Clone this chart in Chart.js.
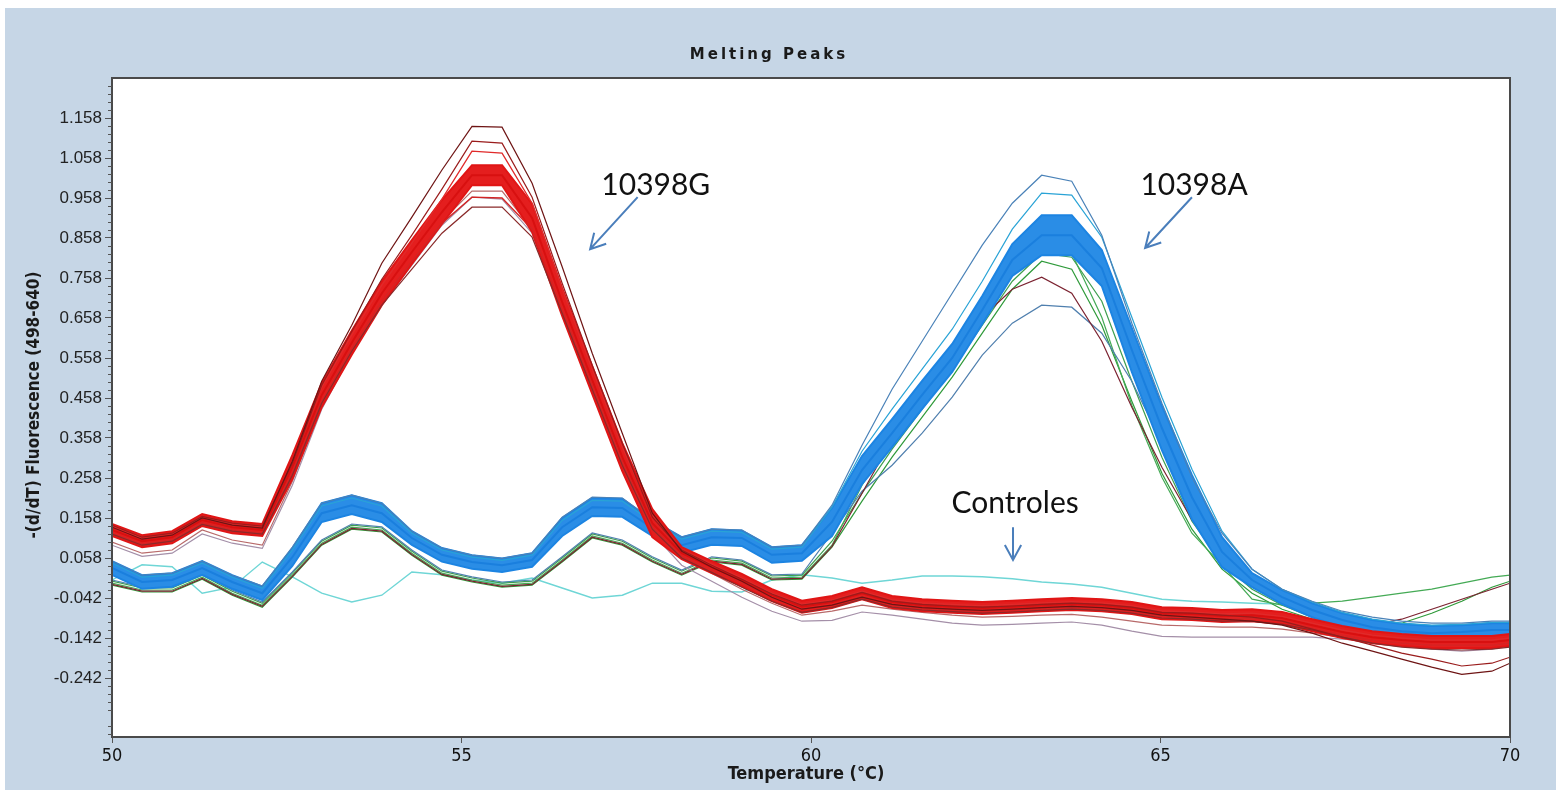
<!DOCTYPE html>
<html>
<head>
<meta charset="utf-8">
<title>Melting Peaks</title>
<script src="https://cdn.jsdelivr.net/npm/chart.js@4.4.1/dist/chart.umd.min.js"></script>
<style>
  html, body { margin: 0; padding: 0; background: #fff; }
  #wrap { position: relative; width: 1556px; height: 793px; }
</style>
</head>
<body>
<div id="wrap"><canvas id="myChart" width="1556" height="793"></canvas></div>
<script>
// temperatures (°C) where the instrument sampled -d/dT
const temps = [50.00, 50.43, 50.86, 51.29, 51.72, 52.15, 52.58, 53.00, 53.43, 53.86, 54.29, 54.72,
               55.15, 55.58, 56.01, 56.44, 56.87, 57.30, 57.73, 58.15, 58.58, 59.01, 59.44, 59.87,
               60.30, 60.73, 61.16, 61.59, 62.02, 62.45, 62.88, 63.30, 63.73, 64.16, 64.59, 65.02,
               65.45, 65.88, 66.31, 66.74, 67.17, 67.60, 68.03, 68.45, 68.88, 69.31, 69.74, 70.00];

const yTicks = [1.158, 1.058, 0.958, 0.858, 0.758, 0.658, 0.558, 0.458, 0.358, 0.258, 0.158, 0.058, -0.042, -0.142, -0.242];
const xTicks = [50, 55, 60, 65, 70];

// 10398G samples (red)
const redTop = [0.143, 0.115, 0.125, 0.168, 0.150, 0.143, 0.315, 0.495, 0.626, 0.750, 0.853, 0.953,
                1.040, 1.040, 0.943, 0.733, 0.538, 0.345, 0.180, 0.085, 0.050, 0.018, -0.020, -0.049,
                -0.037, -0.015, -0.037, -0.045, -0.049, -0.052, -0.049, -0.045, -0.042, -0.045, -0.052, -0.065,
                -0.067, -0.072, -0.070, -0.077, -0.095, -0.112, -0.125, -0.132, -0.137, -0.137, -0.137, -0.132];
const redLow = [0.113, 0.085, 0.095, 0.138, 0.120, 0.113, 0.255, 0.435, 0.566, 0.690, 0.793, 0.893,
                0.990, 0.990, 0.873, 0.663, 0.468, 0.275, 0.110, 0.055, 0.020, -0.012, -0.050, -0.079,
                -0.067, -0.045, -0.067, -0.075, -0.079, -0.082, -0.079, -0.075, -0.072, -0.075, -0.082, -0.095,
                -0.097, -0.102, -0.100, -0.107, -0.125, -0.142, -0.155, -0.162, -0.167, -0.167, -0.167, -0.162];
const redMid = [0.128, 0.100, 0.110, 0.153, 0.135, 0.128, 0.285, 0.465, 0.596, 0.720, 0.823, 0.923,
                1.015, 1.015, 0.908, 0.698, 0.503, 0.310, 0.145, 0.070, 0.035, 0.003, -0.035, -0.064,
                -0.052, -0.030, -0.052, -0.060, -0.064, -0.067, -0.064, -0.060, -0.057, -0.060, -0.067, -0.080,
                -0.082, -0.087, -0.085, -0.092, -0.110, -0.127, -0.140, -0.147, -0.152, -0.152, -0.152, -0.147];
const redThin1 = [0.138, 0.108, 0.118, 0.160, 0.143, 0.136, 0.300, 0.485, 0.615, 0.740, 0.845, 0.955,
                  1.075, 1.070, 0.945, 0.730, 0.530, 0.335, 0.165, 0.078, 0.042, 0.008, -0.030, -0.058,
                  -0.047, -0.025, -0.046, -0.054, -0.058, -0.061, -0.058, -0.054, -0.051, -0.054, -0.061, -0.074,
                  -0.077, -0.082, -0.080, -0.088, -0.105, -0.122, -0.135, -0.142, -0.147, -0.147, -0.147, -0.142];
const redThin2 = [0.120, 0.093, 0.103, 0.146, 0.128, 0.120, 0.270, 0.450, 0.582, 0.700, 0.800, 0.895,
                  0.960, 0.958, 0.880, 0.680, 0.490, 0.298, 0.135, 0.062, 0.028, -0.005, -0.042, -0.070,
                  -0.060, -0.038, -0.060, -0.068, -0.072, -0.075, -0.072, -0.068, -0.065, -0.068, -0.075, -0.088,
                  -0.090, -0.095, -0.093, -0.100, -0.118, -0.135, -0.148, -0.155, -0.160, -0.160, -0.160, -0.155];
const redDark1 = [0.135, 0.105, 0.115, 0.158, 0.140, 0.133, 0.300, 0.500, 0.640, 0.795, 0.910, 1.028,
                  1.137, 1.135, 0.995, 0.786, 0.570, 0.370, 0.170, 0.075, 0.035, 0.000, -0.040, -0.070,
                  -0.060, -0.040, -0.058, -0.066, -0.070, -0.073, -0.070, -0.066, -0.063, -0.066, -0.073, -0.085,
                  -0.090, -0.095, -0.100, -0.110, -0.130, -0.155, -0.175, -0.195, -0.215, -0.233, -0.225, -0.205];
const redDark2 = [0.140, 0.110, 0.120, 0.162, 0.145, 0.138, 0.295, 0.490, 0.625, 0.755, 0.865, 0.980,
                  1.100, 1.095, 0.960, 0.745, 0.540, 0.345, 0.160, 0.078, 0.040, 0.005, -0.032, -0.060,
                  -0.050, -0.028, -0.050, -0.058, -0.062, -0.065, -0.062, -0.058, -0.055, -0.058, -0.065, -0.078,
                  -0.080, -0.085, -0.090, -0.100, -0.120, -0.140, -0.160, -0.180, -0.195, -0.212, -0.205, -0.190];
const redDark3 = [0.118, 0.090, 0.100, 0.142, 0.125, 0.118, 0.265, 0.445, 0.575, 0.690, 0.780, 0.870,
                  0.935, 0.935, 0.860, 0.670, 0.480, 0.290, 0.130, 0.058, 0.022, -0.015, -0.050, -0.078,
                  -0.066, -0.045, -0.065, -0.072, -0.076, -0.080, -0.077, -0.073, -0.070, -0.073, -0.080, -0.092,
                  -0.095, -0.100, -0.100, -0.108, -0.122, -0.140, -0.155, -0.165, -0.170, -0.172, -0.170, -0.165];
const redPink = [0.098, 0.070, 0.078, 0.128, 0.103, 0.090, 0.250, 0.440, 0.580, 0.700, 0.800, 0.900,
                 0.975, 0.975, 0.880, 0.680, 0.490, 0.300, 0.135, 0.060, 0.020, -0.020, -0.055, -0.085,
                 -0.075, -0.060, -0.070, -0.078, -0.085, -0.090, -0.088, -0.085, -0.083, -0.090, -0.100, -0.110,
                 -0.112, -0.115, -0.115, -0.120, -0.130, -0.140, -0.150, -0.160, -0.165, -0.165, -0.160, -0.155];
const redGray = [0.090, 0.062, 0.070, 0.118, 0.095, 0.082, 0.240, 0.430, 0.570, 0.690, 0.790, 0.890,
                 0.960, 0.955, 0.870, 0.670, 0.480, 0.290, 0.120, 0.040, 0.000, -0.040, -0.075, -0.100,
                 -0.098, -0.077, -0.085, -0.095, -0.105, -0.110, -0.108, -0.105, -0.102, -0.110, -0.125, -0.138,
                 -0.140, -0.140, -0.140, -0.140, -0.140, -0.145, -0.150, -0.160, -0.170, -0.175, -0.170, -0.160];

// 10398A samples (blue and a few others)
const blueTop = [0.050, 0.015, 0.020, 0.050, 0.015, -0.013, 0.082, 0.195, 0.215, 0.195, 0.125, 0.083,
                 0.065, 0.057, 0.070, 0.158, 0.208, 0.206, 0.152, 0.110, 0.130, 0.127, 0.085, 0.090,
                 0.183, 0.313, 0.405, 0.501, 0.593, 0.713, 0.843, 0.915, 0.915, 0.828, 0.633, 0.438,
                 0.265, 0.110, 0.020, -0.022, -0.055, -0.080, -0.097, -0.107, -0.112, -0.110, -0.105, -0.105];
const blueLow = [0.016, -0.019, -0.014, 0.016, -0.019, -0.047, 0.038, 0.148, 0.168, 0.148, 0.091, 0.049,
                 0.031, 0.023, 0.036, 0.113, 0.163, 0.161, 0.113, 0.071, 0.091, 0.088, 0.046, 0.051,
                 0.113, 0.243, 0.335, 0.431, 0.523, 0.643, 0.763, 0.815, 0.815, 0.738, 0.523, 0.328,
                 0.155, 0.035, -0.015, -0.057, -0.090, -0.115, -0.132, -0.142, -0.147, -0.145, -0.140, -0.140];
const blueMid = [0.033, -0.002, 0.003, 0.033, -0.002, -0.030, 0.060, 0.170, 0.190, 0.170, 0.108, 0.066,
                 0.048, 0.040, 0.053, 0.135, 0.185, 0.183, 0.133, 0.090, 0.110, 0.108, 0.066, 0.070,
                 0.148, 0.278, 0.370, 0.466, 0.558, 0.678, 0.803, 0.865, 0.865, 0.783, 0.578, 0.383,
                 0.210, 0.073, 0.003, -0.040, -0.072, -0.097, -0.115, -0.125, -0.130, -0.127, -0.122, -0.122];
const blueOut = [0.050, 0.015, 0.020, 0.050, 0.015, -0.012, 0.085, 0.195, 0.215, 0.195, 0.125, 0.083,
                 0.065, 0.057, 0.070, 0.160, 0.210, 0.208, 0.153, 0.110, 0.130, 0.128, 0.085, 0.090,
                 0.190, 0.340, 0.480, 0.600, 0.720, 0.840, 0.945, 1.015, 1.000, 0.865, 0.645, 0.445,
                 0.260, 0.120, 0.030, -0.020, -0.050, -0.075, -0.090, -0.100, -0.105, -0.105, -0.100, -0.100];
const blueCyan = [0.045, 0.010, 0.015, 0.045, 0.010, -0.018, 0.078, 0.188, 0.208, 0.188, 0.120, 0.078,
                  0.060, 0.052, 0.065, 0.152, 0.202, 0.200, 0.148, 0.105, 0.125, 0.122, 0.080, 0.085,
                  0.185, 0.325, 0.430, 0.530, 0.630, 0.750, 0.880, 0.970, 0.965, 0.860, 0.660, 0.460,
                  0.280, 0.125, 0.030, -0.020, -0.052, -0.078, -0.095, -0.105, -0.110, -0.108, -0.103, -0.103];
const blueSteel = [0.003, -0.014, -0.014, 0.018, -0.022, -0.052, 0.023, 0.103, 0.143, 0.136, 0.078, 0.028,
                   0.011, -0.002, 0.003, 0.061, 0.121, 0.103, 0.061, 0.028, 0.061, 0.053, 0.016, 0.018,
                   0.120, 0.225, 0.290, 0.370, 0.460, 0.565, 0.645, 0.690, 0.685, 0.620, 0.500, 0.345,
                   0.200, 0.085, 0.010, -0.040, -0.070, -0.090, -0.105, -0.115, -0.120, -0.120, -0.118, -0.115];
const darkRedA = [-0.008, -0.025, -0.025, 0.007, -0.033, -0.063, 0.012, 0.092, 0.132, 0.125, 0.067, 0.017,
                  0.000, -0.013, -0.008, 0.050, 0.110, 0.092, 0.050, 0.017, 0.050, 0.042, 0.005, 0.007,
                  0.087, 0.220, 0.355, 0.460, 0.560, 0.660, 0.730, 0.760, 0.720, 0.600, 0.435, 0.285,
                  0.153, 0.070, 0.000, -0.050, -0.080, -0.100, -0.110, -0.095, -0.070, -0.045, -0.020, -0.005];
const green1 = [-0.005, -0.022, -0.022, 0.010, -0.030, -0.060, 0.015, 0.095, 0.135, 0.128, 0.070, 0.020,
                0.003, -0.010, -0.005, 0.053, 0.113, 0.095, 0.053, 0.020, 0.053, 0.045, 0.008, 0.010,
                0.090, 0.240, 0.360, 0.460, 0.560, 0.680, 0.790, 0.850, 0.820, 0.660, 0.440, 0.260,
                0.120, 0.040, -0.045, -0.060, -0.055, -0.050, -0.040, -0.030, -0.020, -0.005, 0.010, 0.015];
const green2 = [-0.010, -0.027, -0.027, 0.005, -0.035, -0.065, 0.010, 0.090, 0.130, 0.123, 0.065, 0.015,
                -0.002, -0.015, -0.010, 0.048, 0.108, 0.090, 0.048, 0.015, 0.048, 0.040, 0.003, 0.005,
                0.085, 0.200, 0.310, 0.410, 0.510, 0.620, 0.730, 0.800, 0.780, 0.640, 0.450, 0.270,
                0.130, 0.030, -0.030, -0.070, -0.095, -0.110, -0.115, -0.105, -0.080, -0.050, -0.015, 0.000];
const green3 = [0.000, -0.017, -0.017, 0.015, -0.025, -0.055, 0.020, 0.100, 0.140, 0.133, 0.075, 0.025,
                0.008, -0.005, 0.000, 0.058, 0.118, 0.100, 0.058, 0.025, 0.058, 0.050, 0.013, 0.015,
                0.100, 0.220, 0.330, 0.430, 0.530, 0.640, 0.750, 0.820, 0.810, 0.700, 0.500, 0.310,
                0.150, 0.045, -0.020, -0.060, -0.090, -0.110, -0.125, -0.135, -0.140, -0.140, -0.135, -0.130];

// negative control
const control = [0.003, 0.041, 0.036, -0.030, -0.015, 0.048, 0.011, -0.030, -0.052, -0.035, 0.023, 0.016,
                 0.003, -0.005, 0.008, -0.017, -0.042, -0.035, -0.005, -0.005, -0.025, -0.027, 0.003, 0.016,
                 0.008, -0.005, 0.003, 0.013, 0.013, 0.011, 0.006, -0.002, -0.007, -0.015, -0.030, -0.045,
                 -0.050, -0.052, -0.055, -0.057, -0.075, -0.095, -0.110, -0.118, -0.120, -0.120, -0.118, -0.118];

// annotations, in chart units (°C, -dF/dT)
const noteText = ['10398G', '10398A', 'Controles'];
const noteX = [57.78, 65.48, 62.92];
const noteY = [0.990, 0.990, 0.195];
const arrowFrom = [[57.52, 0.960], [65.45, 0.960], [62.89, 0.135]];
const arrowTo = [[56.84, 0.830], [64.78, 0.833], [62.89, 0.053]];

function pts(arr) {
    return temps.map((t, i) => ({ x: t, y: arr[i] }));
}

function line(label, arr, color, width, fill, bg) {
    return {
        label: label,
        data: pts(arr),
        borderColor: color,
        backgroundColor: bg || color,
        borderWidth: width,
        pointRadius: 0,
        tension: 0,
        fill: fill || false
    };
}

const datasets = [
    line('control', control, '#6fd6d6', 1.4),
    line('green3', green3, '#3f9f4f', 1.2),
    line('green2', green2, '#2f9a3a', 1.2),
    line('green1', green1, '#44aa55', 1.2),
    line('steel', blueSteel, '#4f7fae', 1.2),
    line('darkRedA', darkRedA, '#7b2230', 1.2),
    line('blueTop', blueTop, '#1c84e2', 2, '+1', '#2a8de6'),
    line('blueLow', blueLow, '#1c84e2', 2),
    line('blueMid', blueMid, '#1a7fde', 2),
    line('blueCyan', blueCyan, '#29a3d6', 1.2),
    line('blueOut', blueOut, '#4a82b8', 1.2),
    line('redGray', redGray, '#a48fa8', 1.2),
    line('redPink', redPink, '#b86a6a', 1.2),
    line('redTop', redTop, '#e01515', 2, '+1', '#e41e1e'),
    line('redLow', redLow, '#e01515', 2),
    line('redMid', redMid, '#d81010', 2),
    line('redThin1', redThin1, '#e02a2a', 1.3),
    line('redThin2', redThin2, '#d42424', 1.3),
    line('redDark3', redDark3, '#8a2a2a', 1.2),
    line('redDark2', redDark2, '#9a1c1c', 1.2),
    line('redDark1', redDark1, '#6e1414', 1.2)
];
// paint in array order, first one at the bottom
datasets.forEach((d, i) => { d.order = -i; });

const narrow = '"Liberation Sans Narrow", "Arial Narrow", "DejaVu Sans Condensed", "Liberation Sans", sans-serif';

function drawArrow(ctx, x1, y1, x2, y2) {
    const a = Math.atan2(y2 - y1, x2 - x1);
    const h = 17;
    ctx.beginPath();
    ctx.moveTo(x1, y1);
    ctx.lineTo(x2, y2);
    ctx.moveTo(x2 - h * Math.cos(a - 0.5), y2 - h * Math.sin(a - 0.5));
    ctx.lineTo(x2, y2);
    ctx.lineTo(x2 - h * Math.cos(a + 0.5), y2 - h * Math.sin(a + 0.5));
    ctx.stroke();
}

const framePlugin = {
    id: 'frame',
    beforeDraw(chart) {
        const ctx = chart.ctx;
        const a = chart.chartArea;
        ctx.save();
        ctx.fillStyle = '#ffffff';
        ctx.fillRect(0, 0, chart.width, chart.height);
        ctx.fillStyle = '#c6d6e6';
        ctx.fillRect(5, 8, chart.width - 5, 782);
        ctx.fillStyle = '#ffffff';
        ctx.fillRect(a.left, a.top, a.right - a.left, a.bottom - a.top);
        ctx.restore();
    },
    afterDatasetsDraw(chart) {
        const ctx = chart.ctx;
        const a = chart.chartArea;
        const xs = chart.scales.x;
        const ys = chart.scales.y;
        ctx.save();

        // plot frame
        ctx.strokeStyle = '#4a4a4a';
        ctx.lineWidth = 2;
        ctx.strokeRect(a.left, a.top, a.right - a.left, a.bottom - a.top);

        // minor ticks on the y axis
        ctx.strokeStyle = '#555';
        ctx.lineWidth = 1;
        for (let k = -7; k <= 75; k++) {
            if (k % 5 === 0) continue;
            const v = -0.242 + k * 0.02;
            if (v < ys.min || v > ys.max) continue;
            const py = Math.round(ys.getPixelForValue(v)) + 0.5;
            ctx.beginPath();
            ctx.moveTo(a.left - 4, py);
            ctx.lineTo(a.left, py);
            ctx.stroke();
        }

        // annotations
        ctx.fillStyle = '#111';
        ctx.font = '30px Lato, "Open Sans", sans-serif';
        ctx.textAlign = 'center';
        ctx.textBaseline = 'middle';
        for (let i = 0; i < noteText.length; i++) {
            ctx.fillText(noteText[i], xs.getPixelForValue(noteX[i]), ys.getPixelForValue(noteY[i]));
        }
        ctx.strokeStyle = '#4a7ebb';
        ctx.lineWidth = 2;
        for (let i = 0; i < arrowFrom.length; i++) {
            drawArrow(ctx,
                xs.getPixelForValue(arrowFrom[i][0]), ys.getPixelForValue(arrowFrom[i][1]),
                xs.getPixelForValue(arrowTo[i][0]), ys.getPixelForValue(arrowTo[i][1]));
        }

        // title and axis titles
        ctx.fillStyle = '#1a1a1a';
        ctx.font = 'bold 15px "DejaVu Sans", sans-serif';
        ctx.letterSpacing = '3px';
        ctx.fillText('Melting Peaks', 769, 55);
        ctx.letterSpacing = '0px';

        ctx.font = 'bold 18px ' + narrow;
        ctx.fillText('Temperature (°C)', 806, 774);

        ctx.translate(35, 405);
        ctx.rotate(-Math.PI / 2);
        ctx.font = 'bold 17px ' + narrow;
        ctx.fillText('-(d/dT) Fluorescence (498-640)', 0, 0);
        ctx.restore();
    }
};

const ctx = document.getElementById('myChart').getContext('2d');
const chart = new Chart(ctx, {
    type: 'line',
    data: { datasets: datasets },
    plugins: [framePlugin],
    options: {
        responsive: false,
        animation: false,
        devicePixelRatio: 1,
        layout: { padding: { top: 78, right: 46, left: 0, bottom: 0 } },
        plugins: {
            legend: { display: false },
            tooltip: { enabled: false },
            title: { display: false }
        },
        scales: {
            x: {
                type: 'linear',
                min: 50,
                max: 70,
                afterBuildTicks: (scale) => { scale.ticks = xTicks.map(v => ({ value: v })); },
                afterFit: (scale) => { scale.height = 56; },
                grid: { display: true, drawOnChartArea: false, drawTicks: true, tickLength: 6, tickColor: '#555' },
                border: { display: false },
                ticks: {
                    padding: 3,
                    color: '#111',
                    font: { family: narrow, size: 18 },
                    maxRotation: 0,
                    callback: (v) => String(v)
                }
            },
            y: {
                type: 'linear',
                min: -0.3895,
                max: 1.258,
                afterBuildTicks: (scale) => { scale.ticks = yTicks.map(v => ({ value: v })); },
                afterFit: (scale) => { scale.width = 112; },
                grid: { display: true, drawOnChartArea: false, drawTicks: true, tickLength: 7, tickColor: '#555' },
                border: { display: false },
                ticks: {
                    padding: 3,
                    color: '#222',
                    font: { family: '"Liberation Sans", Arial, sans-serif', size: 17 },
                    callback: (v) => v.toFixed(3)
                }
            }
        }
    }
});
</script>
</body>
</html>
